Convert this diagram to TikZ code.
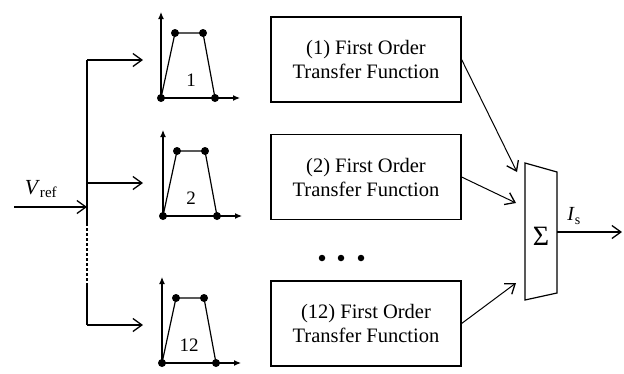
\documentclass[tikz,border=0pt]{standalone}
\usepackage{fontspec}
\setmainfont{Liberation Serif}
\usetikzlibrary{arrows.meta}
\begin{document}
\begin{tikzpicture}[x=1pt,y=-1pt,
  line width=1.2pt,
  arr/.style={-{Straight Barb[length=9pt,width=13pt,line width=1.3pt]}},
  axarr/.style={-{Latex[length=7pt,width=6pt]}},
  tfbox/.style={draw,minimum width=190pt,minimum height=85pt,align=center,font=\fontsize{20.5}{24}\selectfont},
  dot/.style={circle,fill=black,inner sep=0pt,minimum size=8pt},
  num/.style={font=\fontsize{19}{22}\selectfont,inner sep=0pt}]
\useasboundingbox (0,0) rectangle (624,373);
% input bus
\coordinate (in) at (14,207);
\coordinate (bj) at (87,207);
\coordinate (btop) at (87,60);
\coordinate (bmid) at (87,183);
\coordinate (bs1) at (87,223);
\coordinate (bs2) at (87,283);
\coordinate (bbot) at (87,325);
\coordinate (t1) at (143,60);
\coordinate (t2) at (143,183);
\coordinate (t12) at (143,325);
\draw[arr] (in) -- (bj);
\node[font=\fontsize{21.5}{24}\selectfont,inner sep=0pt] (vref) at (41,189) {\textit{V}\textsubscript{ref}};
\draw (btop) -- (bs1);
\draw[dashed,dash pattern=on 3pt off 2pt] (bs1) -- (bs2);
\draw (bs2) -- (bbot);
\draw[arr] (btop) -- (t1);
\draw[arr] (bmid) -- (t2);
\draw[arr] (bbot) -- (t12);
% trapezoid plots
\foreach \n/\ox/\oy/\lab/\lx in {p1/161/98/1/191, p2/163/216/2/191, p3/162/363/12/189}{
  \coordinate (\n o) at (\ox,\oy);
  \coordinate (\n ya) at (\ox,\oy-86);
  \coordinate (\n xa) at (\ox+79,\oy);
  \draw[axarr] (\n o) -- (\n ya);
  \draw[axarr] (\n o) -- (\n xa);
  \node[dot] (\n a) at (\ox,\oy) {};
  \node[dot] (\n b) at (\ox+14,\oy-65) {};
  \node[dot] (\n c) at (\ox+42,\oy-65) {};
  \node[dot] (\n d) at (\ox+54,\oy) {};
  \draw (\n a.center) -- (\n b.center) -- (\n c.center) -- (\n d.center);
  \node[num] (\n l) at (\lx,\oy-18) {\lab};
}
% transfer function boxes
\node[tfbox] (b1) at (366,59.5) {(1) First Order\\Transfer Function};
\node[tfbox] (b2) at (366,177) {(2) First Order\\Transfer Function};
\node[tfbox] (b12) at (366,323.5) {(12) First Order\\Transfer Function};
\node[dot,minimum size=6.5pt] (d1) at (322,258) {};
\node[dot,minimum size=6.5pt] (d2) at (341,258) {};
\node[dot,minimum size=6.5pt] (d3) at (361,258) {};
% summation block
\coordinate (s1) at (525,163);
\coordinate (s2) at (557,172);
\coordinate (s3) at (557,293);
\coordinate (s4) at (525,300);
\draw (s1) -- (s2) -- (s3) -- (s4) -- cycle;
\node[font=\fontsize{28}{30}\selectfont,inner sep=0pt] (sig) at (541,236) {Σ};
\coordinate (e1) at (517,172);
\coordinate (e2) at (516,203);
\coordinate (e12) at (516,283);
\draw[arr,line width=1pt] (b1.east) -- (e1);
\draw[arr,line width=1pt] (b2.east) -- (e2);
\draw[arr,line width=1pt] (b12.east) -- (e12);
\coordinate (so) at (557,232);
\coordinate (out) at (622,232);
\draw[arr] (so) -- (out);
\node[font=\fontsize{20}{24}\selectfont,inner sep=0pt] (is) at (574,216) {\textit{I}\textsubscript{s}};
\end{tikzpicture}
\end{document}
